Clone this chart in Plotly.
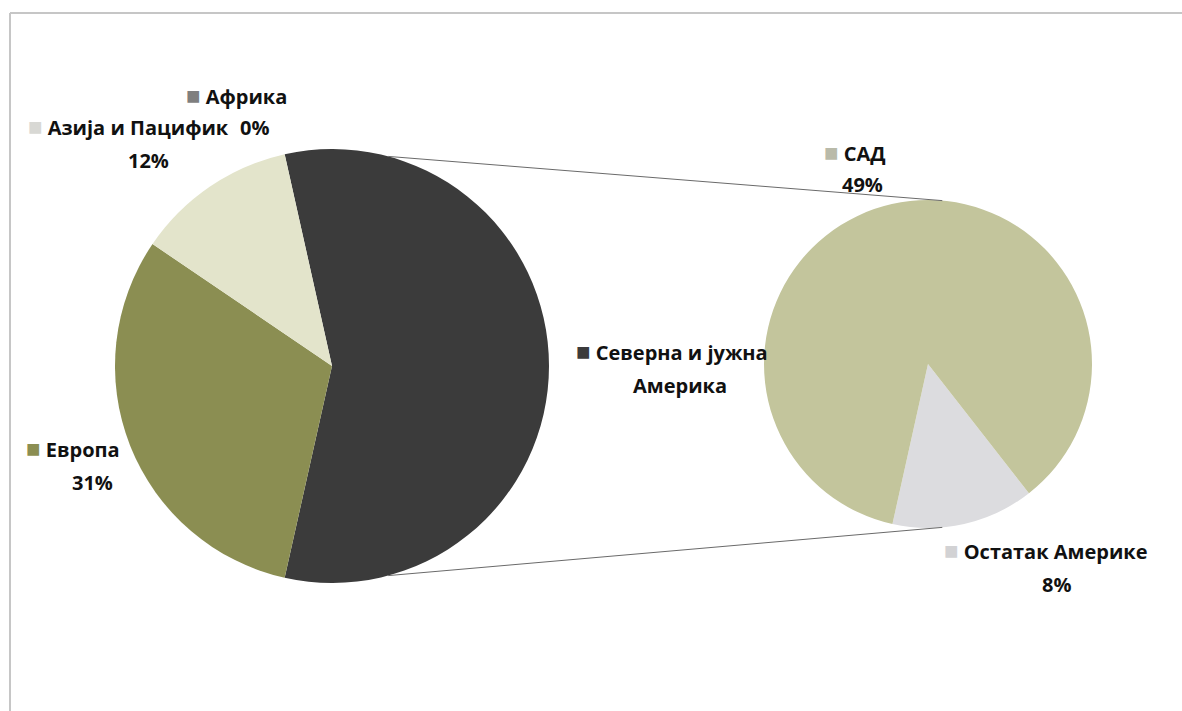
import math
import plotly.graph_objects as go

# Main pie: world regions (share, %)
regions = ["Северна и јужна Америка", "Европа", "Азија и Пацифик", "Африка"]
region_values = [57, 31, 12, 0]
region_colors = ["#3b3b3b", "#8b8e52", "#e3e4cb", "#7f7f7f"]

# Secondary pie: breakdown of the Americas (share, %)
americas = ["Остатак Америке", "САД"]
americas_values = [8, 49]
americas_colors = ["#dcdcdf", "#c3c59c"]

W, H = 1182, 711

# pie geometry in pixels (centre x, centre y from top, radius)
MAIN = (332, 366, 217)
SUB = (928, 364, 164)


def domain(cx, cy, r):
    return dict(x=[(cx - r) / W, (cx + r) / W],
                y=[(H - cy - r) / H, (H - cy + r) / H])


def px(x, y):
    return x / W, (H - y) / H


def on_circle(geom, deg):
    cx, cy, r = geom
    a = math.radians(deg)
    return cx + r * math.sin(a), cy - r * math.cos(a)


main_span = region_values[0] / sum(region_values) * 360
sub_start = 142

fig = go.Figure()
fig.add_trace(go.Pie(
    labels=regions, values=region_values, sort=False, direction="clockwise",
    rotation=90 - main_span / 2, marker=dict(colors=region_colors, line=dict(width=0)),
    textinfo="none", hoverinfo="label+percent", domain=domain(*MAIN), showlegend=False,
))
fig.add_trace(go.Pie(
    labels=americas, values=americas_values, sort=False, direction="clockwise",
    rotation=sub_start, marker=dict(colors=americas_colors, line=dict(width=0)),
    textinfo="none", hoverinfo="label+value", domain=domain(*SUB), showlegend=False,
))

shapes = []
# connector lines between the split slice and the secondary pie
for a_main, a_sub in [(15, 5), (165, 175)]:
    x0, y0 = on_circle(MAIN, a_main)
    x1, y1 = on_circle(SUB, a_sub)
    (p0x, p0y), (p1x, p1y) = px(x0, y0), px(x1, y1)
    shapes.append(dict(type="line", xref="paper", yref="paper", x0=p0x, y0=p0y,
                       x1=p1x, y1=p1y, line=dict(color="#6a6a6a", width=1)))
# chart frame (top and left edges)
fx, fy = px(10, 13)
shapes.append(dict(type="line", xref="paper", yref="paper", x0=fx, y0=fy, x1=1, y1=fy,
                   line=dict(color="#c6c6c6", width=2)))
shapes.append(dict(type="line", xref="paper", yref="paper", x0=fx, y0=fy, x1=fx, y1=0,
                   line=dict(color="#c6c6c6", width=2)))

FONT = dict(family="Open Sans", size=20, color="#111111")


def label(x, y, text, anchor="left"):
    xx, yy = px(x, y)
    fig.add_annotation(x=xx, y=yy, xref="paper", yref="paper", text=text,
                       showarrow=False, xanchor=anchor, yanchor="middle", font=FONT)


def sq(color):
    return f"<span style='color:{color};font-size:24px'>■</span>"


pct = dict(zip(regions + americas, region_values + americas_values))

label(184, 95, f"{sq(region_colors[3])} <b>Африка</b>")
label(254, 128, f"<b>{pct['Африка']}%</b>", "center")
label(26, 126, f"{sq('#d8d8d4')} <b>Азија и Пацифик</b>")
label(148, 160, f"<b>{pct['Азија и Пацифик']}%</b>", "center")
label(24, 448, f"{sq(region_colors[1])} <b>Европа</b>")
label(92, 482, f"<b>{pct['Европа']}%</b>", "center")
label(574, 350, f"{sq(region_colors[0])} <b>Северна и јужна</b>")
label(680, 386, "<b>Америка</b>", "center")
label(822, 151, f"{sq('#b9baa9')} <b>САД</b>")
label(862, 184, f"<b>{pct['САД']}%</b>", "center")
label(942, 549, f"{sq('#d2d2d4')} <b>Остатак Америке</b>")
label(1056, 584, f"<b>{pct['Остатак Америке']}%</b>", "center")

fig.update_layout(width=W, height=H, margin=dict(l=0, r=0, t=0, b=0),
                  paper_bgcolor="white", plot_bgcolor="white", shapes=shapes)
fig.write_html("out.html")
